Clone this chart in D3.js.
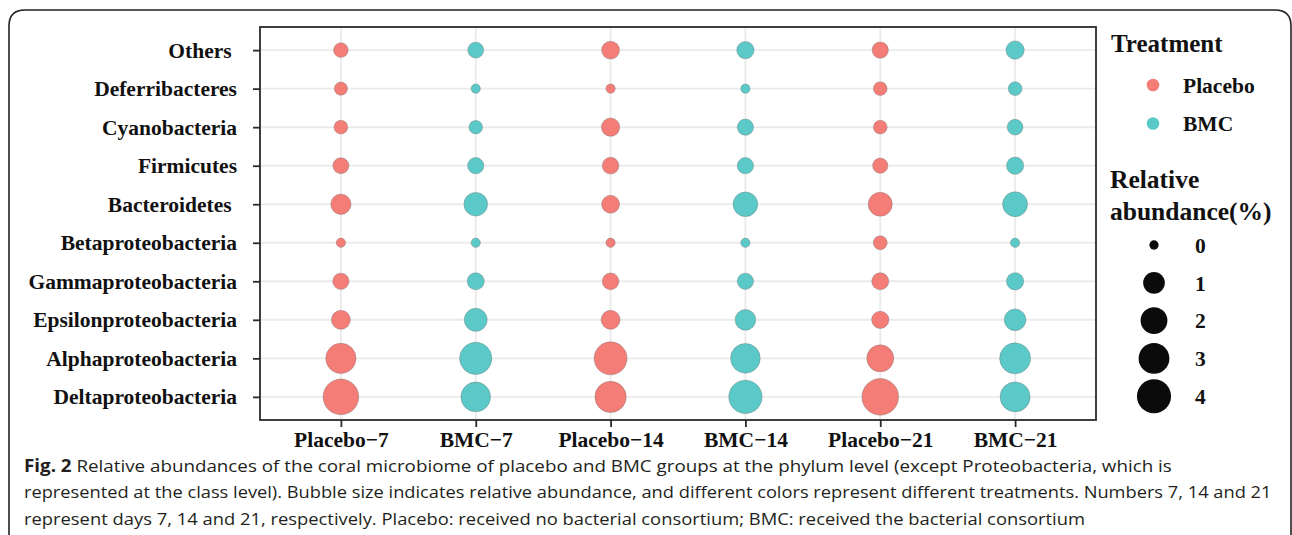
<!DOCTYPE html>
<html>
<head>
<meta charset="utf-8">
<script src="https://cdn.jsdelivr.net/npm/d3@7"></script>
<style>
  body { margin: 0; background: #fff; }
  svg { display: block; }
</style>
</head>
<body>
<svg id="chart" width="1292" height="535"></svg>
<script>
// groups on the x axis, taxa on the y axis (top to bottom)
const groups = ["Placebo\u22127", "BMC\u22127", "Placebo\u221214", "BMC\u221214", "Placebo\u221221", "BMC\u221221"];
const groupTreatment = ["Placebo", "BMC", "Placebo", "BMC", "Placebo", "BMC"];
const taxa = ["Others ", "Deferribacteres", "Cyanobacteria", "Firmicutes", "Bacteroidetes ",
  "Betaproteobacteria", "Gammaproteobacteria", "Epsilonproteobacteria", "Alphaproteobacteria", "Deltaproteobacteria"];

// relative abundance (%) per group, same order as taxa
const placebo7  = [0.19, 0.10, 0.13, 0.29, 0.79, 0.00, 0.32, 0.61, 2.87, 4.53];
const bmc7      = [0.29, 0.00, 0.12, 0.32, 1.35, 0.00, 0.39, 1.22, 3.44, 2.71];
const placebo14 = [0.49, 0.00, 0.53, 0.36, 0.49, 0.00, 0.36, 0.61, 3.65, 3.15];
const bmc14     = [0.42, 0.00, 0.32, 0.32, 1.54, 0.00, 0.32, 0.85, 2.71, 3.75];
const placebo21 = [0.32, 0.13, 0.13, 0.23, 1.41, 0.14, 0.39, 0.42, 2.04, 4.88];
const bmc21     = [0.53, 0.13, 0.27, 0.42, 1.60, 0.00, 0.42, 1.00, 3.06, 2.79];
const groupValues = [placebo7, bmc7, placebo14, bmc14, placebo21, bmc21];

const treatments = ["Placebo", "BMC"];
const sizeBreaks = [0, 1, 2, 3, 4];

const captionLines = [
  ["Fig. 2", " Relative abundances of the coral microbiome of placebo and BMC groups at the phylum level (except Proteobacteria, which is"],
  ["", "represented at the class level). Bubble size indicates relative abundance, and different colors represent different treatments. Numbers 7, 14 and 21"],
  ["", "represent days 7, 14 and 21, respectively. Placebo: received no bacterial consortium; BMC: received the bacterial consortium"]
];

const svg = d3.select("#chart");
const serif = "'Liberation Serif', 'Times New Roman', serif";

// outer frame with rounded top corners
svg.append("path")
  .attr("d", "M9,535 V26 Q9,10 25,10 H1275 Q1291,10 1291,26 V535")
  .attr("fill", "none")
  .attr("stroke", "#222")
  .attr("stroke-width", 1.6);

const panel = { left: 260, right: 1096, top: 27, bottom: 420 };

const x = d3.scalePoint().domain(groups).range([panel.left, panel.right]).padding(0.6);
const y = d3.scalePoint().domain(taxa).range([panel.top, panel.bottom]).padding(0.6);
const r = d3.scaleSqrt().domain([0, 4]).range([4.65, 17.05]);
const color = d3.scaleOrdinal().domain(treatments).range(["#F47D77", "#5BC9C7"]);

// grid
const grid = svg.append("g").attr("stroke", "#EBEBEB").attr("stroke-width", 1.9);
grid.selectAll(".gy").data(taxa).join("line")
  .attr("x1", panel.left).attr("x2", panel.right)
  .attr("y1", d => y(d)).attr("y2", d => y(d));
grid.selectAll(".gx").data(groups).join("line")
  .attr("y1", panel.top).attr("y2", panel.bottom)
  .attr("x1", d => x(d)).attr("x2", d => x(d));

// bubbles
const points = [];
groups.forEach((g, i) => {
  groupValues[i].forEach((v, j) => points.push({ group: g, taxon: taxa[j], value: v, treatment: groupTreatment[i] }));
});

svg.append("g").selectAll("circle")
  .data(points)
  .join("circle")
  .attr("cx", d => x(d.group))
  .attr("cy", d => y(d.taxon))
  .attr("r", d => r(d.value))
  .attr("fill", d => color(d.treatment))
  .attr("stroke", "#6b6b6b")
  .attr("stroke-opacity", 0.6)
  .attr("stroke-width", 0.6);

// panel border
svg.append("rect")
  .attr("x", panel.left).attr("y", panel.top)
  .attr("width", panel.right - panel.left).attr("height", panel.bottom - panel.top)
  .attr("fill", "none").attr("stroke", "#2b2b2b").attr("stroke-width", 1.8);

// axes
const yAxis = svg.append("g")
  .attr("transform", `translate(${panel.left},0)`)
  .call(d3.axisLeft(y).tickSize(7).tickPadding(16));
const xAxis = svg.append("g")
  .attr("transform", `translate(0,${panel.bottom})`)
  .call(d3.axisBottom(x).tickSize(7).tickPadding(5));

[yAxis, xAxis].forEach(a => {
  a.select(".domain").remove();
  a.selectAll(".tick line").attr("stroke", "#2b2b2b").attr("stroke-width", 1.8);
  a.selectAll(".tick text")
    .attr("fill", "#111")
    .style("font-family", serif)
    .style("font-weight", "bold")
    .style("font-size", "21.5px")
    .style("white-space", "pre");
});
xAxis.selectAll(".tick text").attr("dy", "0.71em");

// legend: treatment
const leg = svg.append("g").style("font-family", serif).style("font-weight", "bold").attr("fill", "#111");
leg.append("text").attr("x", 1111).attr("y", 52).style("font-size", "25px").text("Treatment");
treatments.forEach((t, i) => {
  const cy = 85 + i * 38.5;
  leg.append("circle").attr("cx", 1153).attr("cy", cy).attr("r", 6.3).attr("fill", color(t));
  leg.append("text").attr("x", 1183).attr("y", cy).attr("dy", "0.36em").style("font-size", "21.5px").text(t);
});

// legend: size
leg.append("text").attr("x", 1110).attr("y", 188).style("font-size", "25.5px").text("Relative");
leg.append("text").attr("x", 1110).attr("y", 220).style("font-size", "25.5px").text("abundance(%)");
sizeBreaks.forEach((b, i) => {
  const cy = 245 + i * 37.8;
  leg.append("circle").attr("cx", 1154).attr("cy", cy).attr("r", r(b)).attr("fill", "#0b0b0b");
  leg.append("text").attr("x", 1195).attr("y", cy).attr("dy", "0.36em").style("font-size", "21.5px").text(b);
});

// caption
const capWidths = [1148, 1249, 1062];
captionLines.forEach((line, i) => {
  const t = svg.append("text")
    .attr("x", 24).attr("y", 472 + i * 26.5)
    .attr("fill", "#231f20")
    .style("font-family", "'Open Sans', sans-serif")
    .style("font-size", "17px")
    .style("white-space", "pre");
  if (line[0]) t.append("tspan").style("font-weight", "bold").text(line[0]);
  t.append("tspan").text(line[1]);
  const w = t.node().getComputedTextLength();
  const k = capWidths[i] / w;
  t.attr("transform", `translate(24,0) scale(${k},1) translate(-24,0)`);
});
</script>
</body>
</html>
